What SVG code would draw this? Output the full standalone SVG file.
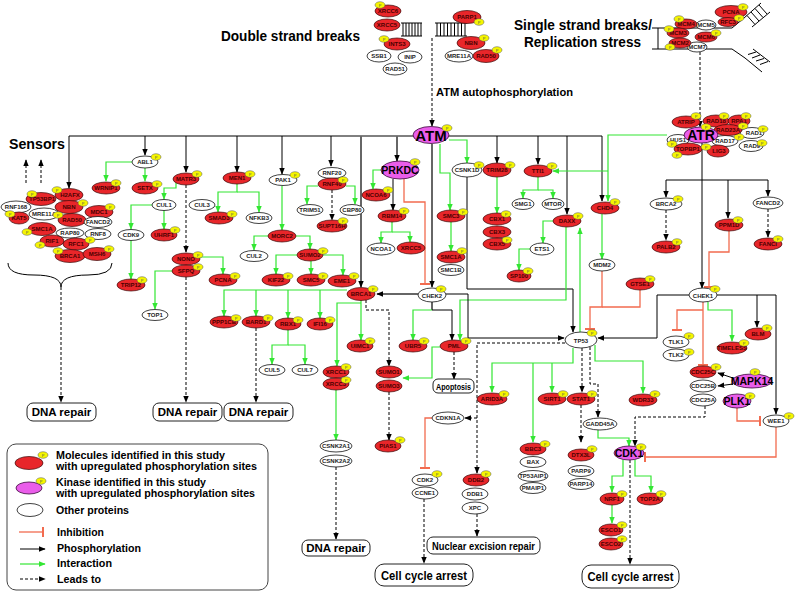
<svg xmlns="http://www.w3.org/2000/svg" width="796" height="592" viewBox="0 0 796 592">
<style>
.r{fill:#e8262a;stroke:#3a0808;stroke-width:.7}
.w{fill:#fff;stroke:#111;stroke-width:.8}
.m{fill:#ea5dea;stroke:#3a083a;stroke-width:.8}
.t{font-family:"Liberation Sans",Arial,sans-serif;font-size:6px;font-weight:bold;text-anchor:middle;fill:#222}
.tr{fill:#4a0000}
.b{font-family:"Liberation Sans",Arial,sans-serif;font-weight:bold;fill:#000}
.ln{fill:none;stroke:#000;stroke-width:1}
.k{fill:none;stroke:#000;stroke-width:1;marker-end:url(#ak)}
.kg{fill:none;stroke:#666;stroke-width:2;marker-end:url(#ak)}
.gl{fill:none;stroke:#666;stroke-width:2}
.g{fill:none;stroke:#33e633;stroke-width:1.2;marker-end:url(#ag)}
.d{fill:none;stroke:#000;stroke-width:1;stroke-dasharray:3 2;marker-end:url(#ak)}
.i{fill:none;stroke:#f26b4f;stroke-width:1.3;marker-end:url(#ib)}
.i2{fill:none;stroke:#f26b4f;stroke-width:1.3}
.box{fill:#fff;stroke:#222;stroke-width:1}
.dna{fill:none;stroke:#000;stroke-width:1}
</style>
<defs>
<marker id="ak" viewBox="0 0 10 10" refX="9" refY="5" markerWidth="7" markerHeight="7" markerUnits="userSpaceOnUse" orient="auto"><path d="M0,1L10,5L0,9z" fill="#000"/></marker>
<marker id="ag" viewBox="0 0 10 10" refX="9" refY="5" markerWidth="7" markerHeight="7" markerUnits="userSpaceOnUse" orient="auto"><path d="M0,1L10,5L0,9z" fill="#33e633"/></marker>
<marker id="ib" viewBox="0 0 2 10" refX="1" refY="5" markerWidth="2" markerHeight="10" markerUnits="userSpaceOnUse" orient="auto"><rect width="2" height="10" fill="#f26b4f"/></marker>
<g id="P"><ellipse rx="5" ry="3.3" fill="#f5f500" stroke="#555" stroke-width=".5"/><text y="1.5" font-family="Liberation Sans,Arial,sans-serif" font-size="4" text-anchor="middle" fill="#555">P</text></g>
</defs>
<rect width="796" height="592" fill="#fff"/>

<!-- headings -->
<text class="b" x="221" y="41" font-size="15" textLength="139" lengthAdjust="spacingAndGlyphs">Double strand breaks</text>
<text class="b" x="514" y="30" font-size="15" textLength="138" lengthAdjust="spacingAndGlyphs">Single strand breaks/</text>
<text class="b" x="524" y="47" font-size="15" textLength="117" lengthAdjust="spacingAndGlyphs">Replication stress</text>
<text class="b" x="436" y="96" font-size="11.5" textLength="137" lengthAdjust="spacingAndGlyphs">ATM autophosphorylation</text>
<text class="b" x="9" y="149" font-size="15" textLength="56" lengthAdjust="spacingAndGlyphs">Sensors</text>

<!-- DNA graphics -->
<g id="dsb-dna" class="dna">
<path d="M401,23H422M401,36H422M435,23H467M435,36H467"/>
<path d="M403,23V36M406,23V36M409,23V36M412,23V36M415,23V36M418,23V36M421,23V36"/>
<path d="M437,23V36M440.5,23V36M444,23V36M447.5,23V36M451,23V36M454.5,23V36M458,23V36M461.5,23V36M465,23V36"/>
</g>
<g id="ssb-dna" class="dna">
<path d="M652,28H732L744,18M652,49H732L745,58M658,28V49"/>
<path d="M744,18L761,3M752,27L770,12M747,15.5L755,24.5M751,12L759,21M755,8.5L763,17.5M759,5L767,14"/>
<path d="M745,58L762,72M753,49L770,62M748,54.5L756,52M752,58L760,55M756,61L764,58.5M760,64.5L768,61.5"/>
</g>

<g id="connectors">
<path class="ln" d="M69,136H602"/>
<path class="k" d="M69,136V188"/>
<path class="k" d="M145,136V155"/>
<path class="k" d="M186,136V172"/>
<path class="k" d="M237,136V172"/>
<path class="k" d="M282,136V174"/>
<path class="k" d="M331,136V166"/>
<path class="kg" d="M361,136V287"/>
<path class="kg" d="M397,136V161"/>
<path class="kg" d="M432,144V287"/>
<path class="k" d="M497,136V163"/>
<path class="k" d="M538,136V164"/>
<path class="k" d="M567,136V214"/>
<path class="k" d="M602,136V201"/>
<path class="d" d="M432,38V126"/>
<path class="d" d="M700,52V127"/>
<path class="d" d="M26,183V160"/>
<path class="d" d="M41,183V160"/>
<path class="ln" d="M8,263Q8,275 34,275Q61,275 61,287Q61,275 88,275Q112,275 112,263"/>
<path class="d" d="M61,287V402"/>
<path class="g" d="M132,162H106V181"/>
<path class="g" d="M145,168V181"/>
<path class="g" d="M176,183V188H164V199"/>
<path class="d" d="M186,185V252"/>
<path class="g" d="M152,205H131V229"/>
<path class="g" d="M164,210V229"/>
<path class="g" d="M131,240V279"/>
<path class="g" d="M200,257H223V274"/>
<path class="g" d="M172,271H155V309"/>
<path class="d" d="M186,277V402"/>
<path class="g" d="M237,184V192H218V212"/>
<path class="g" d="M237,192H259V212"/>
<path class="g" d="M282,186V230"/>
<path class="g" d="M268,236H254V250"/>
<path class="g" d="M296,236H310V249"/>
<path class="g" d="M297,255H276V274"/>
<path class="g" d="M323,255H343V275"/>
<path class="g" d="M311,261V274"/>
<path class="g" d="M318,186H307V204"/>
<path class="g" d="M346,186H355V204"/>
<path class="d" d="M332,190V220"/>
<path class="g" d="M347,290H224V316"/>
<path class="g" d="M256,290V316"/>
<path class="g" d="M288,290V318"/>
<path class="g" d="M320,290V318"/>
<path class="g" d="M361,300V340"/>
<path class="g" d="M361,303H337V366"/>
<path class="d" d="M366,300V310H389V366"/>
<path class="g" d="M288,330V345H272V364"/>
<path class="g" d="M288,345H305V364"/>
<path class="d" d="M256,328V402"/>
<path class="g" d="M336,390V440"/>
<path class="d" d="M336,467V539"/>
<path class="d" d="M389,392V440"/>
<path class="g" d="M381,170H373V189"/>
<path class="k" d="M393,179V210"/>
<path class="i" d="M404,179V202H425V284"/>
<path class="g" d="M392,222V232H381V243"/>
<path class="g" d="M392,232H410V242"/>
<path class="g" d="M449,140H467V163"/>
<path class="g" d="M440,144V173H450V210"/>
<path class="k" d="M467,177V289H573V332"/>
<path class="g" d="M497,177V213"/>
<path class="g" d="M538,177V190H523V198"/>
<path class="g" d="M538,190H553V198"/>
<path class="g" d="M667,135H608V201"/>
<path class="g" d="M608,171H553"/>
<path class="g" d="M451,222V251"/>
<path class="g" d="M553,221H543V243"/>
<path class="g" d="M566,227V300H460V340"/>
<path class="g" d="M530,249H519V270"/>
<path class="g" d="M580,332V228"/>
<path class="g" d="M602,214V259"/>
<path class="i" d="M602,271V307H590V329"/>
<path class="i2" d="M640,290V307H602"/>
<path class="kg" d="M418,294H377"/>
<path class="k" d="M446,294H468V338H564"/>
<path class="gl" d="M432,302V310"/>
<path class="g" d="M432,310H413V340"/>
<path class="k" d="M432,310H452V340"/>
<path class="d" d="M454,352V379"/>
<path class="g" d="M440,347H432V378H403"/>
<path class="d" d="M565,343H477V473"/>
<path class="d" d="M477,418H465"/>
<path class="g" d="M573,348V363H492V392"/>
<path class="g" d="M533,363V442"/>
<path class="g" d="M552,363V392"/>
<path class="d" d="M582,348V392"/>
<path class="d" d="M590,347V384H598V417"/>
<path class="g" d="M595,345V361H643V393"/>
<path class="k" d="M689,295H657V338H598"/>
<path class="k" d="M702,143V288"/>
<path class="ln" d="M666,180H768"/>
<path class="k" d="M666,180V197"/>
<path class="k" d="M768,180V196"/>
<path class="k" d="M728,180V218"/>
<path class="d" d="M666,210V240"/>
<path class="d" d="M768,209V237"/>
<path class="i" d="M729,231V252H709V287"/>
<path class="ln" d="M717,295H776"/>
<path class="k" d="M776,295V414"/>
<path class="k" d="M757,295V327"/>
<path class="g" d="M708,302V310H732V341"/>
<path class="i" d="M703,302V365"/>
<path class="i" d="M703,310H677V330"/>
<path class="k" d="M733,378L718,373"/>
<path class="k" d="M733,384L718,386"/>
<path class="d" d="M705,406V417H635V446"/>
<path class="g" d="M598,430V438H629V446"/>
<path class="i" d="M737,408V421H760"/>
<path class="i" d="M776,427V457H645"/>
<path class="g" d="M623,460V476H612V492"/>
<path class="g" d="M635,460V476H651V492"/>
<path class="g" d="M612,505V523"/>
<path class="d" d="M630,460V564"/>
<path class="i" d="M432,418H425V468"/>
<path class="d" d="M424,499V563"/>
<path class="d" d="M477,514V536"/>
<path class="d" d="M581,405V442"/>
</g>

<!-- DSB cluster -->
<g id="SSB1"><ellipse class="w" cx="379" cy="56" rx="12" ry="6"/><text class="t" x="379" y="58">SSB1</text></g>
<g id="INIP"><ellipse class="w" cx="410" cy="57" rx="12" ry="6"/><text class="t" x="410" y="59">INIP</text></g>
<g id="RAD51"><ellipse class="w" cx="395" cy="69" rx="12" ry="6"/><text class="t" x="395" y="71">RAD51</text></g>
<g id="XRCC6"><ellipse class="r" cx="388" cy="11" rx="13" ry="6"/><text class="t tr" x="388" y="13">XRCC6</text><use href="#P" x="380" y="5"/></g>
<g id="XRCC5"><ellipse class="r" cx="387" cy="25" rx="13" ry="6"/><text class="t tr" x="387" y="27">XRCC5</text></g>
<g id="INTS3"><ellipse class="r" cx="397" cy="44" rx="13" ry="6"/><text class="t tr" x="397" y="46">INTS3</text><use href="#P" x="384" y="39"/></g>
<g id="PARP1"><ellipse class="r" cx="467" cy="17" rx="14" ry="6.5"/><text class="t tr" x="467" y="19">PARP1</text><use href="#P" x="479" y="22"/></g>
<g id="MRE11A-dsb"><ellipse class="w" cx="459" cy="56" rx="14" ry="6"/><text class="t" x="459" y="58">MRE11A</text></g>
<g id="NBN-dsb"><ellipse class="r" cx="471" cy="43" rx="14" ry="6.5"/><text class="t tr" x="471" y="45">NBN</text><use href="#P" x="484" y="38"/></g>
<g id="RAD50-dsb"><ellipse class="r" cx="486" cy="56" rx="13" ry="6.5"/><text class="t tr" x="486" y="58">RAD50</text><use href="#P" x="497" y="50"/></g>

<!-- SSB cluster -->
<g id="PCNA-ss"><ellipse class="r" cx="731" cy="12" rx="16" ry="6.5"/><text class="t tr" x="731" y="14">PCNA</text><use href="#P" x="743" y="7"/></g>
<g id="RFC3"><ellipse class="r" cx="728" cy="22" rx="10" ry="4.5"/><text class="t tr" x="728" y="24" font-size="5">RFC3</text><use href="#P" x="739" y="18"/></g>
<g id="MCM5"><ellipse class="w" cx="706" cy="25" rx="10" ry="5"/><text class="t" x="706" y="27" font-size="5">MCM5</text></g>
<g id="MCM4"><ellipse class="r" cx="686" cy="24" rx="11" ry="5"/><text class="t tr" x="686" y="26" font-size="5">MCM4</text><use href="#P" x="679" y="19"/></g>
<g id="MCM6"><ellipse class="r" cx="706" cy="37" rx="11" ry="5"/><text class="t tr" x="706" y="39" font-size="5">MCM6</text><use href="#P" x="716" y="33"/></g>
<g id="MCM3"><ellipse class="r" cx="678" cy="33" rx="11" ry="5"/><text class="t tr" x="678" y="35" font-size="5">MCM3</text><use href="#P" x="669" y="29"/></g>
<g id="MCM7"><ellipse class="w" cx="697" cy="47" rx="10" ry="5"/><text class="t" x="697" y="49" font-size="5">MCM7</text></g>
<g id="MCM2"><ellipse class="r" cx="680" cy="43" rx="11" ry="5"/><text class="t tr" x="680" y="45" font-size="5">MCM2</text><use href="#P" x="670" y="47"/></g>

<!-- ATR cluster -->
<g id="RAD1"><ellipse class="w" cx="752" cy="133" rx="12" ry="5.5"/><text class="t" x="754" y="135">RAD1</text><use href="#P" x="763" y="129"/></g>
<g id="RAD9"><ellipse class="w" cx="751" cy="146" rx="12" ry="5.5"/><text class="t" x="752" y="148">RAD9</text><use href="#P" x="762" y="143"/></g>
<g id="RAD17"><ellipse class="w" cx="725" cy="141" rx="13" ry="5.5"/><text class="t" x="725" y="143">RAD17</text><use href="#P" x="739" y="137"/></g>
<g id="HUS1"><ellipse class="w" cx="678" cy="140" rx="11" ry="5.5"/><text class="t" x="678" y="142">HUS1</text><use href="#P" x="672" y="144"/></g>
<g id="TOPBP1"><ellipse class="r" cx="688" cy="149" rx="14" ry="6"/><text class="t tr" x="688" y="151">TOPBP1</text><use href="#P" x="677" y="155"/></g>
<g id="LIG3"><ellipse class="r" cx="718" cy="151" rx="11" ry="6"/><text class="t tr" x="719" y="153">LIG3</text><use href="#P" x="706" y="147"/></g>
<g id="ATRIP"><ellipse class="r" cx="686" cy="122" rx="14" ry="6"/><text class="t tr" x="686" y="124">ATRIP</text><use href="#P" x="696" y="116"/></g>
<g id="RAD18"><ellipse class="r" cx="716" cy="121" rx="13" ry="6"/><text class="t tr" x="716" y="123">RAD18</text><use href="#P" x="724" y="116"/></g>
<g id="RPA1"><ellipse class="r" cx="739" cy="121" rx="11" ry="6"/><text class="t tr" x="739" y="123">RPA1</text><use href="#P" x="746" y="116"/></g>
<g id="RAD23A"><ellipse class="r" cx="728" cy="130" rx="14" ry="5.5"/><text class="t tr" x="728" y="132">RAD23A</text><use href="#P" x="743" y="126"/></g>
<g id="ATR"><ellipse class="m" cx="701" cy="135" rx="17" ry="8"/><text class="b" x="701" y="140" font-size="14" text-anchor="middle">ATR</text><use href="#P" x="706" y="127"/></g>

<g id="ATM"><ellipse class="m" cx="431" cy="135" rx="18" ry="8.5"/><text class="b" x="431" y="140.5" font-size="15" text-anchor="middle">ATM</text><use href="#P" x="447" y="128"/></g>

<!-- sensors -->
<g id="RNF168"><ellipse class="w" cx="16" cy="207" rx="15" ry="6"/><text class="t" x="16" y="209">RNF168</text></g>
<g id="TP53BP1"><ellipse class="r" cx="41" cy="199" rx="15" ry="6.5"/><text class="t tr" x="42" y="201">TP53BP1</text><use href="#P" x="32" y="194"/></g>
<g id="H2AFX"><ellipse class="r" cx="69" cy="195" rx="14" ry="6.5"/><text class="t tr" x="70" y="197">H2AFX</text><use href="#P" x="57" y="190"/></g>
<g id="NBN"><ellipse class="r" cx="69" cy="207" rx="14" ry="6.5"/><text class="t tr" x="69" y="209">NBN</text><use href="#P" x="83" y="203"/></g>
<g id="MDC1"><ellipse class="r" cx="99" cy="212" rx="14" ry="6.5"/><text class="t tr" x="99" y="214">MDC1</text><use href="#P" x="110" y="207"/></g>
<g id="KAT5"><ellipse class="r" cx="19" cy="218" rx="10" ry="6"/><text class="t tr" x="19" y="220">KAT5</text><use href="#P" x="10" y="214"/></g>
<g id="MRE11A"><ellipse class="w" cx="44" cy="214" rx="15" ry="6"/><text class="t" x="44" y="216">MRE11A</text></g>
<g id="RAD50"><ellipse class="r" cx="72" cy="220" rx="14" ry="6.5"/><text class="t tr" x="72" y="222">RAD50</text><use href="#P" x="58" y="215"/></g>
<g id="FANCD2"><ellipse class="w" cx="98" cy="222" rx="14" ry="5.5"/><text class="t" x="98" y="224">FANCD2</text></g>
<g id="SMC1A"><ellipse class="r" cx="42" cy="229" rx="14" ry="6.5"/><text class="t tr" x="42" y="231">SMC1A</text><use href="#P" x="27" y="232"/></g>
<g id="RAP80"><ellipse class="w" cx="70" cy="233" rx="14" ry="5"/><text class="t" x="70" y="235">RAP80</text></g>
<g id="RNF8"><ellipse class="w" cx="98" cy="234" rx="13" ry="5.5"/><text class="t" x="98" y="236">RNF8</text></g>
<g id="RIF1"><ellipse class="r" cx="52" cy="241" rx="12" ry="6"/><text class="t tr" x="52" y="243">RIF1</text><use href="#P" x="40" y="245"/></g>
<g id="RFC1"><ellipse class="r" cx="76" cy="244" rx="13" ry="6"/><text class="t tr" x="76" y="246">RFC1</text><use href="#P" x="90" y="240"/></g>
<g id="BRCA1-sensor"><ellipse class="r" cx="70" cy="256" rx="15" ry="6.5"/><text class="t tr" x="70" y="258">BRCA1</text><use href="#P" x="58" y="251"/></g>
<g id="MSH6"><ellipse class="r" cx="97" cy="254" rx="14" ry="6.5"/><text class="t tr" x="97" y="256">MSH6</text><use href="#P" x="109" y="249"/></g>

<!-- left -->
<g id="ABL1"><ellipse class="w" cx="145" cy="162" rx="13" ry="6"/><text class="t" x="145" y="164">ABL1</text><use href="#P" x="156" y="157"/></g>
<g id="WRNIP1"><ellipse class="r" cx="106" cy="188" rx="14" ry="6"/><text class="t tr" x="106" y="190">WRNIP1</text><use href="#P" x="116" y="183"/></g>
<g id="SETX"><ellipse class="r" cx="145" cy="188" rx="13" ry="6"/><text class="t tr" x="145" y="190">SETX</text><use href="#P" x="157" y="184"/></g>
<g id="MATR3"><ellipse class="r" cx="186" cy="179" rx="13" ry="6"/><text class="t tr" x="186" y="181">MATR3</text><use href="#P" x="197" y="174"/></g>
<g id="CUL1"><ellipse class="w" cx="164" cy="205" rx="12" ry="5.5"/><text class="t" x="164" y="207">CUL1</text></g>
<g id="CUL3"><ellipse class="w" cx="202" cy="205" rx="13" ry="5.5"/><text class="t" x="202" y="207">CUL3</text></g>
<g id="UHRF1"><ellipse class="r" cx="164" cy="235" rx="13" ry="6"/><text class="t tr" x="164" y="237">UHRF1</text><use href="#P" x="175" y="230"/></g>
<g id="CDK9"><ellipse class="w" cx="131" cy="235" rx="13" ry="5.5"/><text class="t" x="131" y="237">CDK9</text></g>
<g id="TRIP12"><ellipse class="r" cx="131" cy="285" rx="14" ry="6"/><text class="t tr" x="131" y="287">TRIP12</text><use href="#P" x="142" y="280"/></g>
<g id="NONO"><ellipse class="r" cx="186" cy="259" rx="14" ry="6"/><text class="t tr" x="186" y="261">NONO</text><use href="#P" x="198" y="255"/></g>
<g id="SFPQ"><ellipse class="r" cx="186" cy="271" rx="14" ry="6"/><text class="t tr" x="186" y="273">SFPQ</text><use href="#P" x="198" y="267"/></g>
<g id="TOP1"><ellipse class="w" cx="155" cy="315" rx="13" ry="5.5"/><text class="t" x="155" y="317">TOP1</text></g>
<g id="MEN1"><ellipse class="r" cx="237" cy="178" rx="14" ry="6"/><text class="t tr" x="237" y="180">MEN1</text><use href="#P" x="250" y="174"/></g>
<g id="SMAD3"><ellipse class="r" cx="219" cy="218" rx="14" ry="6"/><text class="t tr" x="219" y="220">SMAD3</text><use href="#P" x="232" y="214"/></g>
<g id="NFKB3"><ellipse class="w" cx="259" cy="218" rx="13" ry="5.5"/><text class="t" x="259" y="220">NFKB3</text></g>
<g id="PAK1"><ellipse class="w" cx="283" cy="180" rx="14" ry="5.5"/><text class="t" x="283" y="182">PAK1</text><use href="#P" x="295" y="175"/></g>
<g id="MORC2"><ellipse class="r" cx="282" cy="236" rx="14" ry="6"/><text class="t tr" x="282" y="238">MORC2</text></g>
<g id="CUL2"><ellipse class="w" cx="254" cy="256" rx="14" ry="5.5"/><text class="t" x="254" y="258">CUL2</text></g>
<g id="SUMO2"><ellipse class="r" cx="310" cy="255" rx="13" ry="6"/><text class="t tr" x="310" y="257">SUMO2</text><use href="#P" x="323" y="251"/></g>
<g id="PCNA"><ellipse class="r" cx="223" cy="280" rx="14" ry="6"/><text class="t tr" x="223" y="282">PCNA</text><use href="#P" x="235" y="276"/></g>
<g id="KIF22"><ellipse class="r" cx="276" cy="280" rx="14" ry="6"/><text class="t tr" x="276" y="282">KIF22</text><use href="#P" x="288" y="276"/></g>
<g id="SMC5"><ellipse class="r" cx="311" cy="280" rx="14" ry="6"/><text class="t tr" x="311" y="282">SMC5</text><use href="#P" x="323" y="276"/></g>
<g id="EME1"><ellipse class="r" cx="342" cy="281" rx="14" ry="6"/><text class="t tr" x="342" y="283">EME1</text><use href="#P" x="354" y="276"/></g>
<g id="RNF20"><ellipse class="w" cx="332" cy="173" rx="14" ry="5.5"/><text class="t" x="332" y="175">RNF20</text></g>
<g id="RNF40"><ellipse class="r" cx="332" cy="184" rx="14" ry="6"/><text class="t tr" x="332" y="186">RNF40</text><use href="#P" x="343" y="180"/></g>
<g id="TRIM51"><ellipse class="w" cx="310" cy="210" rx="13" ry="5.5"/><text class="t" x="310" y="212">TRIM51</text></g>
<g id="CBP80"><ellipse class="w" cx="352" cy="210" rx="12" ry="5.5"/><text class="t" x="352" y="212">CBP80</text></g>
<g id="SUPT16H"><ellipse class="r" cx="332" cy="226" rx="15" ry="6"/><text class="t tr" x="332" y="228">SUPT16H</text><use href="#P" x="343" y="221"/></g>
<g id="BRCA1"><ellipse class="r" cx="361" cy="294" rx="14" ry="6.5"/><text class="t tr" x="361" y="296">BRCA1</text><use href="#P" x="373" y="289"/></g>
<g id="PPP1CB"><ellipse class="r" cx="224" cy="322" rx="14" ry="6"/><text class="t tr" x="224" y="324">PPP1CB</text><use href="#P" x="236" y="318"/></g>
<g id="BARD1"><ellipse class="r" cx="256" cy="322" rx="14" ry="6"/><text class="t tr" x="256" y="324">BARD1</text><use href="#P" x="268" y="318"/></g>
<g id="RBX1"><ellipse class="r" cx="288" cy="324" rx="13" ry="6"/><text class="t tr" x="288" y="326">RBX1</text><use href="#P" x="298" y="320"/></g>
<g id="IFI16"><ellipse class="r" cx="320" cy="324" rx="13" ry="6"/><text class="t tr" x="320" y="326">IFI16</text><use href="#P" x="330" y="320"/></g>
<g id="UIMC1"><ellipse class="r" cx="360" cy="346" rx="13" ry="6"/><text class="t tr" x="360" y="348">UIMC1</text><use href="#P" x="370" y="341"/></g>
<g id="CUL5"><ellipse class="w" cx="272" cy="370" rx="13" ry="5.5"/><text class="t" x="272" y="372">CUL5</text></g>
<g id="CUL7"><ellipse class="w" cx="305" cy="370" rx="13" ry="5.5"/><text class="t" x="305" y="372">CUL7</text></g>
<g id="XRCC1"><ellipse class="r" cx="336" cy="372" rx="13" ry="6"/><text class="t tr" x="336" y="374">XRCC1</text><use href="#P" x="346" y="367"/></g>
<g id="XRCC3"><ellipse class="r" cx="336" cy="384" rx="13" ry="6"/><text class="t tr" x="336" y="386">XRCC3</text><use href="#P" x="346" y="380"/></g>
<g id="SUMO1"><ellipse class="r" cx="389" cy="372" rx="13" ry="6"/><text class="t tr" x="389" y="374">SUMO1</text></g>
<g id="SUMO3"><ellipse class="r" cx="389" cy="386" rx="13" ry="6"/><text class="t tr" x="389" y="388">SUMO3</text></g>
<g id="CSNK2A1"><ellipse class="w" cx="336" cy="446" rx="16" ry="6"/><text class="t" x="336" y="448">CSNK2A1</text></g>
<g id="CSNK2A2"><ellipse class="w" cx="336" cy="461" rx="16" ry="6"/><text class="t" x="336" y="463">CSNK2A2</text></g>
<g id="PIAS1"><ellipse class="r" cx="388" cy="446" rx="13" ry="6"/><text class="t tr" x="388" y="448">PIAS1</text><use href="#P" x="400" y="440"/></g>

<!-- middle -->
<g id="PRKDC"><ellipse class="m" cx="400" cy="170" rx="19" ry="9"/><text class="b" x="400" y="174" font-size="10.5" text-anchor="middle">PRKDC</text><use href="#P" x="415" y="162"/></g>
<g id="NCOA6"><ellipse class="r" cx="376" cy="195" rx="14" ry="6"/><text class="t tr" x="376" y="197">NCOA6</text><use href="#P" x="388" y="190"/></g>
<g id="RBM14"><ellipse class="r" cx="392" cy="216" rx="14" ry="6"/><text class="t tr" x="392" y="218">RBM14</text><use href="#P" x="404" y="211"/></g>
<g id="NCOA1"><ellipse class="w" cx="381" cy="249" rx="14" ry="6"/><text class="t" x="381" y="251">NCOA1</text></g>
<g id="XRCC5-b"><ellipse class="r" cx="411" cy="248" rx="14" ry="6"/><text class="t tr" x="411" y="250">XRCC5</text></g>
<g id="CSNK1D"><ellipse class="w" cx="467" cy="170" rx="15" ry="7"/><text class="t" x="467" y="172">CSNK1D</text><use href="#P" x="479" y="165"/></g>
<g id="TRIM28"><ellipse class="r" cx="497" cy="170" rx="14" ry="7"/><text class="t tr" x="497" y="172">TRIM28</text><use href="#P" x="510" y="165"/></g>
<g id="TTI1"><ellipse class="r" cx="538" cy="171" rx="14" ry="6"/><text class="t tr" x="538" y="173">TTI1</text><use href="#P" x="552" y="166"/></g>
<g id="SMC3"><ellipse class="r" cx="451" cy="216" rx="14" ry="6"/><text class="t tr" x="451" y="218">SMC3</text><use href="#P" x="463" y="212"/></g>
<g id="SMC1A-m"><ellipse class="r" cx="451" cy="257" rx="14" ry="6"/><text class="t tr" x="451" y="259">SMC1A</text><use href="#P" x="462" y="251"/></g>
<g id="SMC1B"><ellipse class="w" cx="451" cy="270" rx="13" ry="5.5"/><text class="t" x="451" y="272">SMC1B</text></g>
<g id="CBX1"><ellipse class="r" cx="497" cy="219" rx="14" ry="6"/><text class="t tr" x="497" y="221">CBX1</text><use href="#P" x="506" y="214"/></g>
<g id="CBX3"><ellipse class="r" cx="497" cy="232" rx="14" ry="6"/><text class="t tr" x="497" y="234">CBX3</text></g>
<g id="CBX5"><ellipse class="r" cx="497" cy="244" rx="14" ry="6"/><text class="t tr" x="497" y="246">CBX5</text><use href="#P" x="507" y="240"/></g>
<g id="SMG1"><ellipse class="w" cx="523" cy="204" rx="11" ry="5.5"/><text class="t" x="523" y="206">SMG1</text></g>
<g id="MTOR"><ellipse class="w" cx="553" cy="204" rx="11" ry="5.5"/><text class="t" x="553" y="206">MTOR</text></g>
<g id="DAXX"><ellipse class="r" cx="567" cy="221" rx="14" ry="6"/><text class="t tr" x="567" y="223">DAXX</text><use href="#P" x="578" y="216"/></g>
<g id="ETS1"><ellipse class="w" cx="542" cy="249" rx="12" ry="6"/><text class="t" x="542" y="251">ETS1</text></g>
<g id="SP100"><ellipse class="r" cx="519" cy="276" rx="12" ry="6"/><text class="t tr" x="519" y="278">SP100</text><use href="#P" x="528" y="271"/></g>
<g id="CHD4"><ellipse class="r" cx="605" cy="208" rx="14" ry="6"/><text class="t tr" x="605" y="210">CHD4</text><use href="#P" x="615" y="202"/></g>
<g id="MDM2"><ellipse class="w" cx="602" cy="265" rx="13" ry="6"/><text class="t" x="602" y="267">MDM2</text></g>
<g id="GTSE1"><ellipse class="r" cx="640" cy="284" rx="14" ry="6"/><text class="t tr" x="640" y="286">GTSE1</text><use href="#P" x="650" y="279"/></g>
<g id="CHEK2"><ellipse class="w" cx="432" cy="295" rx="14" ry="7"/><text class="t" x="432" y="298" font-size="8">CHEK2</text><use href="#P" x="441" y="289"/></g>
<g id="UBR5"><ellipse class="r" cx="413" cy="346" rx="14" ry="6"/><text class="t tr" x="413" y="348">UBR5</text><use href="#P" x="424" y="341"/></g>
<g id="PML"><ellipse class="r" cx="454" cy="346" rx="14" ry="6"/><text class="t tr" x="454" y="348">PML</text><use href="#P" x="466" y="341"/></g>
<g id="TP53"><ellipse class="w" cx="581" cy="340" rx="16" ry="8"/><text class="t" x="581" y="342.5" font-size="7">TP53</text><use href="#P" x="592" y="333"/></g>
<g id="ARID3A"><ellipse class="r" cx="492" cy="399" rx="15" ry="6"/><text class="t tr" x="492" y="401">ARID3A</text><use href="#P" x="504" y="394"/></g>
<g id="SIRT1"><ellipse class="r" cx="552" cy="399" rx="14" ry="6"/><text class="t tr" x="552" y="401">SIRT1</text><use href="#P" x="563" y="394"/></g>
<g id="STAT1"><ellipse class="r" cx="581" cy="399" rx="14" ry="6"/><text class="t tr" x="581" y="401">STAT1</text><use href="#P" x="592" y="394"/></g>
<g id="WDR33"><ellipse class="r" cx="643" cy="400" rx="14" ry="6"/><text class="t tr" x="643" y="402">WDR33</text><use href="#P" x="655" y="394"/></g>
<g id="GADD45A"><ellipse class="w" cx="600" cy="424" rx="17" ry="6"/><text class="t" x="600" y="426">GADD45A</text></g>
<g id="CDKN1A"><ellipse class="w" cx="448" cy="418" rx="16" ry="6"/><text class="t" x="448" y="420">CDKN1A</text></g>
<g id="CDK2"><ellipse class="w" cx="425" cy="480" rx="13" ry="6"/><text class="t" x="425" y="482">CDK2</text><use href="#P" x="437" y="474"/></g>
<g id="CCNE1"><ellipse class="w" cx="425" cy="493" rx="13" ry="6"/><text class="t" x="425" y="495">CCNE1</text></g>
<g id="DDB2"><ellipse class="r" cx="476" cy="480" rx="13" ry="6"/><text class="t tr" x="476" y="482">DDB2</text><use href="#P" x="486" y="474"/></g>
<g id="DDB1"><ellipse class="w" cx="475" cy="494" rx="13" ry="6"/><text class="t" x="475" y="496">DDB1</text></g>
<g id="XPC"><ellipse class="w" cx="475" cy="508" rx="13" ry="6"/><text class="t" x="475" y="510">XPC</text></g>
<g id="BBC3"><ellipse class="r" cx="533" cy="449" rx="13" ry="6"/><text class="t tr" x="533" y="451">BBC3</text><use href="#P" x="545" y="444"/></g>
<g id="BAX"><ellipse class="w" cx="533" cy="462" rx="13" ry="5.5"/><text class="t" x="533" y="464">BAX</text></g>
<g id="TP53AIP1"><ellipse class="w" cx="533" cy="476" rx="15" ry="5.5"/><text class="t" x="533" y="478" font-size="5.5">TP53AIP1</text></g>
<g id="PMAIP1"><ellipse class="w" cx="533" cy="488" rx="13" ry="5.5"/><text class="t" x="533" y="490">PMAIP1</text></g>
<g id="DTX3L"><ellipse class="r" cx="581" cy="455" rx="13" ry="6"/><text class="t tr" x="581" y="457">DTX3L</text><use href="#P" x="592" y="449"/></g>
<g id="PARP9"><ellipse class="w" cx="581" cy="471" rx="13" ry="5.5"/><text class="t" x="581" y="473">PARP9</text></g>
<g id="PARP14"><ellipse class="w" cx="581" cy="484" rx="13" ry="5.5"/><text class="t" x="581" y="486">PARP14</text></g>

<!-- right -->
<g id="BRCA2"><ellipse class="w" cx="666" cy="204" rx="16" ry="6"/><text class="t" x="666" y="206">BRCA2</text><use href="#P" x="678" y="199"/></g>
<g id="FANCD2-r"><ellipse class="w" cx="768" cy="203" rx="15" ry="6"/><text class="t" x="768" y="205">FANCD2</text></g>
<g id="PALB2"><ellipse class="r" cx="666" cy="247" rx="14" ry="6"/><text class="t tr" x="666" y="249">PALB2</text><use href="#P" x="677" y="242"/></g>
<g id="PPM1D"><ellipse class="r" cx="729" cy="225" rx="14" ry="6"/><text class="t tr" x="729" y="227">PPM1D</text><use href="#P" x="738" y="220"/></g>
<g id="FANCI"><ellipse class="r" cx="768" cy="244" rx="14" ry="6"/><text class="t tr" x="768" y="246">FANCI</text><use href="#P" x="778" y="239"/></g>
<g id="CHEK1"><ellipse class="w" cx="703" cy="295" rx="14" ry="7"/><text class="t" x="703" y="298" font-size="8">CHEK1</text><use href="#P" x="715" y="289"/></g>
<g id="BLM"><ellipse class="r" cx="758" cy="334" rx="13" ry="6"/><text class="t tr" x="758" y="336">BLM</text><use href="#P" x="767" y="328"/></g>
<g id="TIMELESS"><ellipse class="r" cx="732" cy="348" rx="15" ry="6"/><text class="t tr" x="732" y="350">TIMELESS</text><use href="#P" x="744" y="343"/></g>
<g id="TLK1"><ellipse class="w" cx="676" cy="342" rx="13" ry="6"/><text class="t" x="676" y="344">TLK1</text><use href="#P" x="689" y="336"/></g>
<g id="TLK2"><ellipse class="w" cx="676" cy="355" rx="13" ry="6"/><text class="t" x="676" y="357">TLK2</text><use href="#P" x="689" y="352"/></g>
<g id="CDC25C"><ellipse class="r" cx="703" cy="372" rx="13" ry="6"/><text class="t tr" x="703" y="374">CDC25C</text><use href="#P" x="716" y="367"/></g>
<g id="CDC25B"><ellipse class="w" cx="703" cy="386" rx="13" ry="6"/><text class="t" x="703" y="388">CDC25B</text></g>
<g id="CDC25A"><ellipse class="w" cx="703" cy="400" rx="13" ry="6"/><text class="t" x="703" y="402">CDC25A</text></g>
<g id="MAPK14"><ellipse class="m" cx="752" cy="381" rx="20" ry="7"/><text class="b" x="752" y="385" font-size="10.5" text-anchor="middle">MAPK14</text><use href="#P" x="755" y="372"/></g>
<g id="PLK1"><ellipse class="m" cx="737" cy="401" rx="14" ry="7"/><text class="b" x="737" y="405" font-size="10.5" text-anchor="middle">PLK1</text><use href="#P" x="750" y="396"/></g>
<g id="WEE1"><ellipse class="w" cx="776" cy="421" rx="13" ry="6"/><text class="t" x="776" y="423">WEE1</text><use href="#P" x="789" y="416"/></g>
<g id="CDK1"><ellipse class="m" cx="629" cy="453" rx="15" ry="7"/><text class="b" x="629" y="457" font-size="10.5" text-anchor="middle">CDK1</text><use href="#P" x="641" y="447"/></g>
<g id="NRF1"><ellipse class="r" cx="612" cy="499" rx="12" ry="6"/><text class="t tr" x="612" y="501">NRF1</text><use href="#P" x="622" y="494"/></g>
<g id="TOP2A"><ellipse class="r" cx="650" cy="499" rx="13" ry="6"/><text class="t tr" x="650" y="501">TOP2A</text><use href="#P" x="661" y="494"/></g>
<g id="ESCO1"><ellipse class="r" cx="611" cy="530" rx="12" ry="6"/><text class="t tr" x="611" y="532">ESCO1</text><use href="#P" x="622" y="525"/></g>
<g id="ESCO2"><ellipse class="r" cx="611" cy="544" rx="12" ry="6"/><text class="t tr" x="611" y="546">ESCO2</text><use href="#P" x="622" y="539"/></g>

<!-- outcome boxes -->
<g id="out-dna1"><rect class="box" x="27" y="403" width="69" height="18" rx="6"/><text class="b" x="61.5" y="416" font-size="11.5" text-anchor="middle">DNA repair</text></g>
<g id="out-dna2"><rect class="box" x="153" y="403" width="69" height="18" rx="6"/><text class="b" x="187.5" y="416" font-size="11.5" text-anchor="middle">DNA repair</text></g>
<g id="out-dna3"><rect class="box" x="224" y="403" width="69" height="18" rx="6"/><text class="b" x="258.5" y="416" font-size="11.5" text-anchor="middle">DNA repair</text></g>
<g id="out-dna4"><rect class="box" x="302" y="540" width="68" height="16" rx="6"/><text class="b" x="336" y="552" font-size="11.5" text-anchor="middle">DNA repair</text></g>
<g id="out-apoptosis"><rect class="box" x="433" y="379" width="41" height="14" rx="5"/><text class="b" x="453.5" y="389.5" font-size="9" text-anchor="middle" textLength="35" lengthAdjust="spacingAndGlyphs">Apoptosis</text></g>
<g id="out-ner"><rect class="box" x="427" y="537" width="113" height="17" rx="6"/><text class="b" x="483.5" y="549.5" font-size="11" text-anchor="middle" textLength="103" lengthAdjust="spacingAndGlyphs">Nuclear excision repair</text></g>
<g id="out-cca1"><rect class="box" x="375" y="564" width="98" height="22" rx="9"/><text class="b" x="424" y="579.5" font-size="13" text-anchor="middle" textLength="86" lengthAdjust="spacingAndGlyphs">Cell cycle arrest</text></g>
<g id="out-cca2"><rect class="box" x="582" y="565" width="97" height="23" rx="9"/><text class="b" x="630.5" y="581" font-size="13" text-anchor="middle" textLength="86" lengthAdjust="spacingAndGlyphs">Cell cycle arrest</text></g>

<!-- legend -->
<g id="legend">
<rect x="7" y="444" width="261" height="146" rx="9" fill="#fff" stroke="#444" stroke-width="1"/>
<ellipse class="r" cx="29" cy="463" rx="14" ry="6.5"/><use href="#P" x="43" y="455"/>
<text class="b" x="56" y="459" font-size="10" textLength="169" lengthAdjust="spacingAndGlyphs">Molecules identified in this study</text>
<text class="b" x="56" y="469.5" font-size="10" textLength="201" lengthAdjust="spacingAndGlyphs">with upregulated phosphorylation sites</text>
<ellipse class="m" cx="29" cy="488" rx="13" ry="6"/><use href="#P" x="41" y="481"/>
<text class="b" x="56" y="486" font-size="10" textLength="150" lengthAdjust="spacingAndGlyphs">Kinase identified in this study</text>
<text class="b" x="56" y="496.5" font-size="10" textLength="199" lengthAdjust="spacingAndGlyphs">with upregulated phosphorylation sites</text>
<ellipse class="w" cx="30" cy="510" rx="13" ry="6.5"/>
<text class="b" x="56" y="514" font-size="11.5" textLength="73" lengthAdjust="spacingAndGlyphs">Other proteins</text>
<path class="i" d="M19,532H43"/>
<text class="b" x="57" y="536" font-size="11.5" textLength="47" lengthAdjust="spacingAndGlyphs">Inhibition</text>
<path class="k" d="M20,549H45"/>
<text class="b" x="57" y="552" font-size="11.5" textLength="84" lengthAdjust="spacingAndGlyphs">Phosphorylation</text>
<path class="g" d="M20,564H45"/>
<text class="b" x="57" y="567" font-size="11.5" textLength="55" lengthAdjust="spacingAndGlyphs">Interaction</text>
<path class="d" d="M20,579H45"/>
<text class="b" x="57" y="583" font-size="11.5" textLength="44" lengthAdjust="spacingAndGlyphs">Leads to</text>
</g>
</svg>
